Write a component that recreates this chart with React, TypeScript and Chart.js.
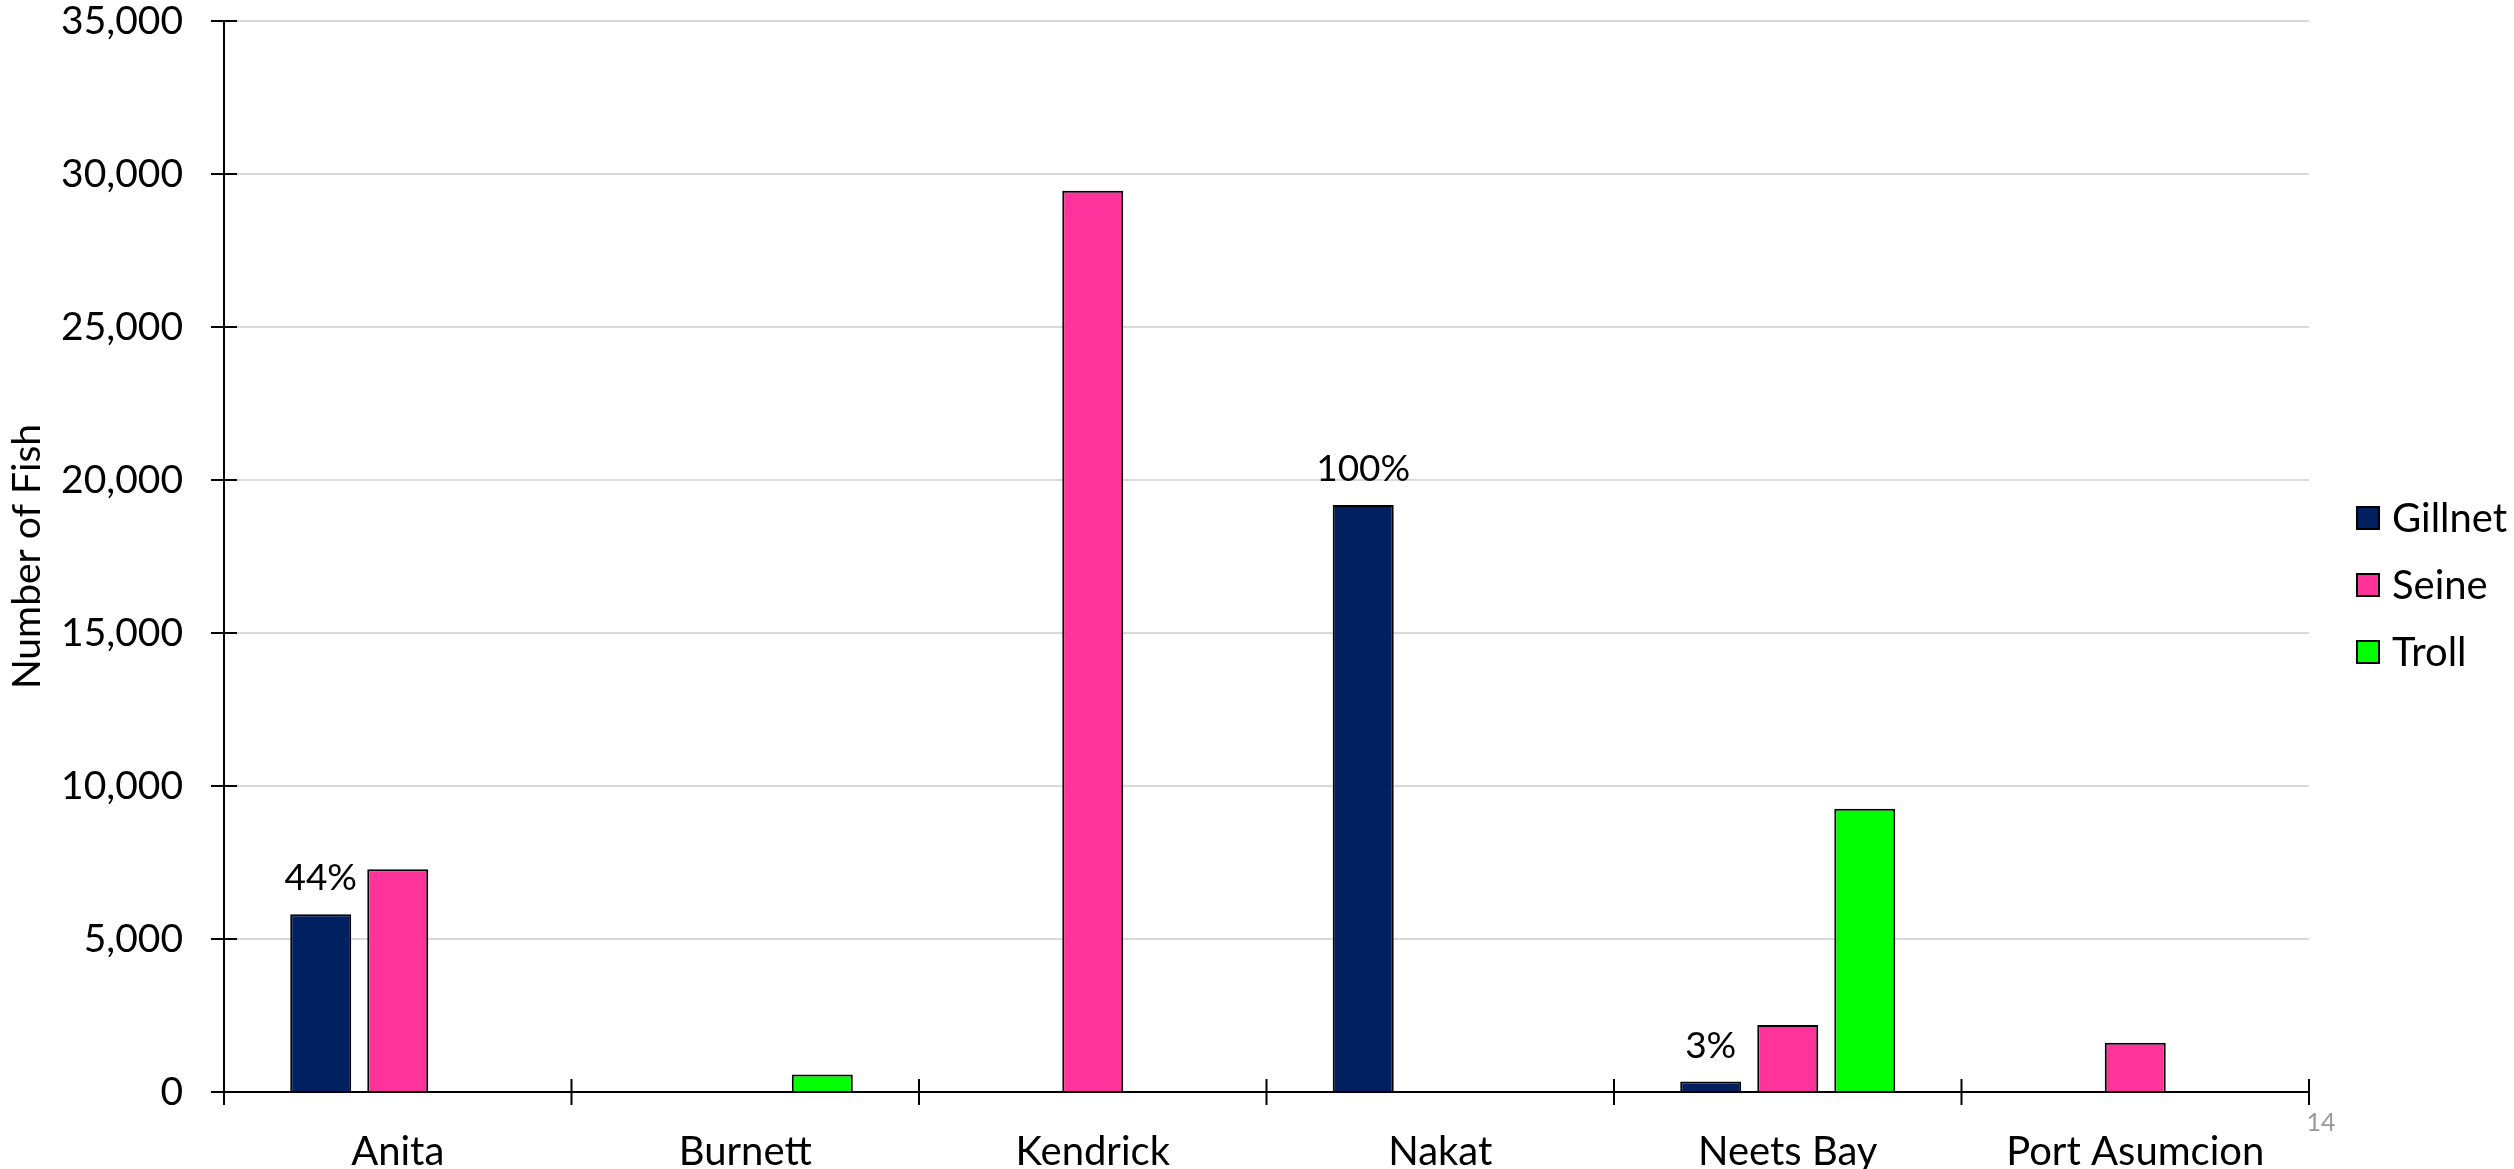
import React, { useEffect, useRef } from "react";
import { Chart, registerables } from "chart.js";

Chart.register(...registerables);

const categories = ["Anita", "Burnett", "Kendrick", "Nakat", "Neets Bay", "Port Asumcion"];
const seriesNames = ["Gillnet", "Seine", "Troll"];
const gillnet = [5810, null, null, 19180, 340, null];
const seine = [7280, null, 29450, null, 2190, 1610];
const troll = [null, 570, null, null, 9260, null];
const gillnetLabels = ["44%", "", "", "100%", "3%", ""];
const seriesColors = ["#002060", "#FF3399", "#00FF00"];
const yTicks = [0, 5000, 10000, 15000, 20000, 25000, 30000, 35000];
const pageNumber = "14";
const yTitle = "Number of Fish";

const FONT = "Lato";

const decorPlugin = {
  id: "decor",
  afterDraw(chart: any) {
    const ctx = chart.ctx;
    const area = chart.chartArea;
    const xs = chart.scales.x;
    const ys = chart.scales.y;
    ctx.save();
    // crossing tick marks
    ctx.strokeStyle = "#000";
    ctx.lineWidth = 2;
    ctx.beginPath();
    yTicks.forEach((v) => {
      const py = Math.round(ys.getPixelForValue(v));
      ctx.moveTo(area.left - 13, py);
      ctx.lineTo(area.left + 13, py);
    });
    const n = categories.length;
    for (let i = 0; i <= n; i++) {
      let px;
      if (i === 0) px = area.left;
      else if (i === n) px = area.right;
      else px = (xs.getPixelForValue(i - 1) + xs.getPixelForValue(i)) / 2;
      ctx.moveTo(px, area.bottom - 13);
      ctx.lineTo(px, area.bottom + 13);
    }
    ctx.stroke();

    // data labels on gillnet
    const meta = chart.getDatasetMeta(0);
    ctx.fillStyle = "#000";
    ctx.font = `37px ${FONT}`;
    ctx.textAlign = "center";
    ctx.textBaseline = "middle";
    meta.data.forEach((el: any, i: number) => {
      const t = gillnetLabels[i];
      if (!t || gillnet[i] == null) return;
      ctx.fillText(t, el.x, el.y - 36);
    });

    // legend
    const boxX = 2356;
    const centers = [518, 585, 652];
    ctx.font = `40px ${FONT}`;
    ctx.textAlign = "left";
    ctx.textBaseline = "middle";
    chart.data.datasets.forEach((ds: any, i: number) => {
      const cy = centers[i];
      ctx.fillStyle = ds.backgroundColor;
      ctx.fillRect(boxX, cy - 12, 24, 24);
      ctx.strokeStyle = "#000";
      ctx.lineWidth = 2;
      ctx.strokeRect(boxX + 1, cy - 11, 22, 22);
      ctx.fillStyle = "#000";
      ctx.fillText(ds.label, 2392, cy + 1);
    });

    // page number
    ctx.fillStyle = "#999999";
    ctx.font = `25px ${FONT}`;
    ctx.textAlign = "center";
    ctx.fillText(pageNumber, 2321, 1123);
    ctx.restore();
  },
};

export default function App() {
  const ref = useRef<HTMLCanvasElement | null>(null);
  useEffect(() => {
    if (!ref.current) return;
    const datasets = [gillnet, seine, troll].map((d, i) => ({
      label: seriesNames[i],
      data: d,
      backgroundColor: seriesColors[i],
      borderColor: "#000",
      borderWidth: 2,
      categoryPercentage: 0.665,
      barPercentage: 0.792,
    }));
    const chart = new Chart(ref.current, {
      type: "bar",
      data: { labels: categories, datasets },
      options: {
        animation: false,
        responsive: false,
        devicePixelRatio: 1,
        layout: { padding: { top: 21, right: 205, left: 0, bottom: 0 } },
        plugins: {
          legend: { display: false },
          tooltip: { enabled: false },
        },
        scales: {
          x: {
            grid: { display: false, drawTicks: false },
            border: { display: true, color: "#000", width: 2 },
            ticks: { color: "#000", font: { family: FONT, size: 40 }, padding: 36, maxRotation: 0 },
            afterFit: (s: any) => {
              s.height = 77;
              s.paddingLeft = 0;
              s.paddingRight = 0;
            },
          },
          y: {
            min: 0,
            max: 35000,
            afterBuildTicks: (s: any) => {
              s.ticks = yTicks.map((v) => ({ value: v }));
            },
            grid: { color: "#d9d9d9", lineWidth: 2, drawTicks: false },
            border: { display: true, color: "#000", width: 2 },
            ticks: {
              color: "#000",
              font: { family: FONT, size: 39 },
              padding: 41,
              callback: (v: any) => Number(v).toLocaleString("en-US"),
            },
            title: {
              display: true,
              text: yTitle,
              color: "#000",
              font: { family: FONT, size: 39 },
              padding: { top: 4, bottom: 0 },
            },
            afterFit: (s: any) => {
              s.width = 224;
              s.paddingTop = 0;
              s.paddingBottom = 0;
            },
          },
        },
      },
      plugins: [decorPlugin],
    });
    return () => chart.destroy();
  }, []);
  return (
    <div style={{ position: "fixed", left: 0, top: 0, width: 2514, height: 1169, background: "#fff" }}>
      <canvas ref={ref} width={2514} height={1169} />
    </div>
  );
}
